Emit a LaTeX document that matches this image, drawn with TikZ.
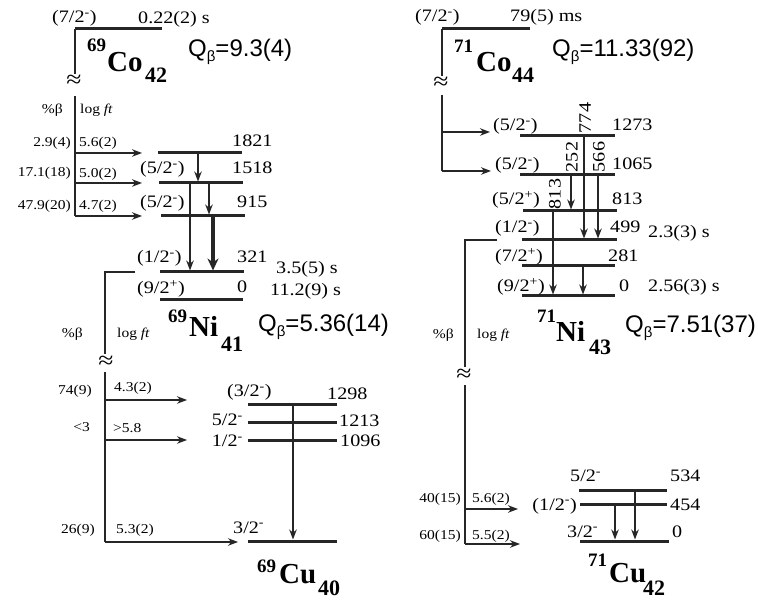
\documentclass[tikz,border=0pt]{standalone}
\usepackage{fontspec}
\usetikzlibrary{arrows.meta}
\newfontfamily\tms[FakeStretch=1.15]{Liberation Serif}
\newfontfamily\tmb{Liberation Serif}
\newfontfamily\ari{Liberation Sans}
\newcommand\lgf{\tms\fontsize{17.5}{17.5}\selectfont}
\newcommand\smf{\tms\fontsize{13.5}{13.5}\selectfont}
\newcommand\jp[1]{\textsuperscript{#1}}
\newcommand\qb[1]{Q\raisebox{-5pt}{\fontsize{15}{15}\selectfont β}=#1}
\tikzset{
  lbl/.style={inner sep=0pt, font=\lgf},
  sml/.style={inner sep=0pt, font=\smf},
  qv/.style={inner sep=0pt, font=\ari\fontsize{24}{24}\selectfont},
  nA/.style={inner sep=0pt, font=\tmb\bfseries\fontsize{19}{19}\selectfont},
  nB/.style={inner sep=0pt, font=\tmb\bfseries\fontsize{29}{29}\selectfont},
  nC/.style={inner sep=0pt, font=\tmb\bfseries\fontsize{22}{22}\selectfont},
  apx/.style={inner sep=0pt, font=\tms\fontsize{24}{24}\selectfont},
  lvl/.style={line width=3pt, draw=black!85},
  dec/.style={line width=1.5pt, draw=black!85},
  barr/.style={line width=1.4pt, draw=black!85, -{Stealth[length=10pt,width=7.5pt]}},
  gam/.style={line width=1.6pt, draw=black!85, -{Stealth[length=10pt,width=7.5pt]}},
  gamT/.style={line width=4.5pt, draw=black!85, -{Stealth[length=12pt,width=11pt]}},
}
\begin{document}
\begin{tikzpicture}[x=1pt,y=-1pt]
\useasboundingbox[fill=white] (0,0) rectangle (758,601);

% ================= LEFT: 69Co -> 69Ni =================
\coordinate (c69a) at (75,29);
\coordinate (c69b) at (162,29);
\draw[lvl] (c69a) -- (c69b);
\coordinate (c69v1) at (75,74);
\draw[dec] (c69a) -- (c69v1);
\node[apx] (ap1) at (74,81.5) {≈};
\coordinate (c69v2) at (75,96);
\coordinate (c69v3) at (75,216);
\draw[dec] (c69v2) -- (c69v3);

\node[lbl, anchor=base west] (t1) at (52,23) {(7/2\jp{-})};
\node[lbl, anchor=base west] (t2) at (138,24) {0.22(2) s};
\node[nA, anchor=base west] (co69a) at (87,52) {69};
\node[nB, anchor=base west] (co69b) at (107,72) {Co};
\node[nC, anchor=base west] (co69c) at (145,83) {42};
\node[qv, anchor=base west] (q1) at (188,57) {\qb{9.3(4)}};

\node[sml, anchor=base east] (pb1) at (63,114) {\%β};
\node[sml, anchor=base west] (lf1) at (80,114) {log \textit{ft}};

% levels 69Ni
\coordinate (n1821a) at (158,153); \coordinate (n1821b) at (242,153);
\coordinate (n1518a) at (159,183); \coordinate (n1518b) at (243,183);
\coordinate (n915a) at (161,216);  \coordinate (n915b) at (245,216);
\coordinate (n321a) at (160,272);  \coordinate (n321b) at (244,272);
\coordinate (n0a) at (160,300);    \coordinate (n0b) at (243,300);
\draw[lvl] (n1821a) -- (n1821b);
\draw[lvl] (n1518a) -- (n1518b);
\draw[lvl] (n915a) -- (n915b);
\draw[lvl] (n321a) -- (n321b);
\draw[lvl] (n0a) -- (n0b);

% beta feeding
\coordinate (b1s) at (75,153); \coordinate (b1e) at (142,153);
\coordinate (b2s) at (75,183); \coordinate (b2e) at (142,183);
\coordinate (b3e) at (142,216);
\draw[barr] (b1s) -- (b1e);
\draw[barr] (b2s) -- (b2e);
\draw[barr] (c69v3) -- (b3e);
\node[sml, anchor=base east] (p1) at (71,147) {2.9(4)};
\node[sml, anchor=base west] (f1) at (79,147) {5.6(2)};
\node[sml, anchor=base east] (p2) at (71,177) {17.1(18)};
\node[sml, anchor=base west] (f2) at (79,178) {5.0(2)};
\node[sml, anchor=base east] (p3) at (71,210) {47.9(20)};
\node[sml, anchor=base west] (f3) at (79,210) {4.7(2)};

% level labels
\node[lbl, anchor=base west] (e1821) at (232,147) {1821};
\node[lbl, anchor=base west] (s1518) at (140,174) {(5/2\jp{-})};
\node[lbl, anchor=base west] (e1518) at (232,174) {1518};
\node[lbl, anchor=base west] (s915) at (140,208) {(5/2\jp{-})};
\node[lbl, anchor=base west] (e915) at (237,208) {915};
\node[lbl, anchor=base west] (s321) at (137,263) {(1/2\jp{-})};
\node[lbl, anchor=base west] (e321) at (237,263) {321};
\node[lbl, anchor=base west] (h321) at (276,274) {3.5(5) s};
\node[lbl, anchor=base west] (s0) at (137,294) {(9/2\jp{+})};
\node[lbl, anchor=base west] (e0) at (237,293) {0};
\node[lbl, anchor=base west] (h0) at (270,296) {11.2(9) s};

% gammas
\coordinate (g1a) at (198,154); \coordinate (g1b) at (198,181.5);
\coordinate (g2a) at (209,184); \coordinate (g2b) at (209,214.5);
\coordinate (g3a) at (190,184); \coordinate (g3b) at (190,270.5);
\coordinate (g4a) at (213,217); \coordinate (g4b) at (213,270.5);
\draw[gam] (g1a) -- (g1b);
\draw[gam] (g2a) -- (g2b);
\draw[gam] (g3a) -- (g3b);
\draw[gamT] (g4a) -- (g4b);

% ================= LEFT: 69Ni -> 69Cu =================
\node[nA, anchor=base west] (ni69a) at (168,323) {69};
\node[nB, anchor=base west] (ni69b) at (189,337) {Ni};
\node[nC, anchor=base west] (ni69c) at (221,352) {41};
\node[qv, anchor=base west] (q2) at (258,332) {\qb{5.36(14)}};

\coordinate (d1a) at (135,272);
\coordinate (d1b) at (105,272);
\coordinate (d1c) at (105,354);
\draw[dec] (d1a) -- (d1b) -- (d1c);
\node[apx] (ap2) at (106,362) {≈};
\coordinate (d1d) at (105,372);
\coordinate (d1e) at (105,542);
\draw[dec] (d1d) -- (d1e);

\node[sml, anchor=base east] (pb2) at (83,338) {\%β};
\node[sml, anchor=base west] (lf2) at (117,338) {log \textit{ft}};

\coordinate (cb1s) at (105,400); \coordinate (cb1e) at (187,400);
\coordinate (cb2s) at (105,440); \coordinate (cb2e) at (187,440);
\coordinate (cb3e) at (238,542);
\draw[barr] (cb1s) -- (cb1e);
\draw[barr] (cb2s) -- (cb2e);
\draw[barr] (d1e) -- (cb3e);
\node[sml, anchor=base east] (cp1) at (92,395) {74(9)};
\node[sml, anchor=base west] (cf1) at (114,392) {4.3(2)};
\node[sml, anchor=base east] (cp2) at (90,432) {<3};
\node[sml, anchor=base west] (cf2) at (113,433) {>5.8};
\node[sml, anchor=base east] (cp3) at (95,533) {26(9)};
\node[sml, anchor=base west] (cf3) at (116,533) {5.3(2)};

\coordinate (u1298a) at (248,405); \coordinate (u1298b) at (337,405);
\coordinate (u1213a) at (248,423); \coordinate (u1213b) at (337,423);
\coordinate (u1096a) at (248,441); \coordinate (u1096b) at (337,441);
\coordinate (u0a) at (248,541);    \coordinate (u0b) at (337,541);
\draw[lvl] (u1298a) -- (u1298b);
\draw[lvl] (u1213a) -- (u1213b);
\draw[lvl] (u1096a) -- (u1096b);
\draw[lvl] (u0a) -- (u0b);
\node[lbl, anchor=base west] (us1298) at (227,397) {(3/2\jp{-})};
\node[lbl, anchor=base west] (ue1298) at (327,400) {1298};
\node[lbl, anchor=base east] (us1213) at (243,426) {5/2\jp{-}};
\node[lbl, anchor=base west] (ue1213) at (339,427) {1213};
\node[lbl, anchor=base east] (us1096) at (243,447) {1/2\jp{-}};
\node[lbl, anchor=base west] (ue1096) at (340,447) {1096};
\node[lbl, anchor=base west] (us0) at (233,533) {3/2\jp{-}};
\coordinate (ug1a) at (293,406); \coordinate (ug1b) at (293,539.5);
\draw[gam] (ug1a) -- (ug1b);
\node[nA, anchor=base west] (cu69a) at (257,572) {69};
\node[nB, anchor=base west] (cu69b) at (279,583) {Cu};
\node[nC, anchor=base west] (cu69c) at (318,595) {40};

% ================= RIGHT: 71Co -> 71Ni =================
\coordinate (c71a) at (442,29);
\coordinate (c71b) at (530,29);
\draw[lvl] (c71a) -- (c71b);
\coordinate (c71v1) at (442,76);
\draw[dec] (c71a) -- (c71v1);
\node[apx] (ap3) at (441,83) {≈};
\coordinate (c71v2) at (442,95);
\coordinate (c71v3) at (442,171);
\draw[dec] (c71v2) -- (c71v3);
\coordinate (rb1s) at (442,132); \coordinate (rb1e) at (490,132);
\coordinate (rb2e) at (491,171);
\draw[barr] (rb1s) -- (rb1e);
\draw[barr] (c71v3) -- (rb2e);

\node[lbl, anchor=base west] (rt1) at (415,22) {(7/2\jp{-})};
\node[lbl, anchor=base west] (rt2) at (510,22) {79(5) ms};
\node[nA, anchor=base west] (co71a) at (454,53) {71};
\node[nB, anchor=base west] (co71b) at (476,72) {Co};
\node[nC, anchor=base west] (co71c) at (512,83) {44};
\node[qv, anchor=base west] (q3) at (552,57) {\qb{11.33(92)}};

\coordinate (r1273a) at (520,136); \coordinate (r1273b) at (615,136);
\coordinate (r1065a) at (520,175); \coordinate (r1065b) at (615,175);
\coordinate (r813a) at (523,211);  \coordinate (r813b) at (617,211);
\coordinate (r499a) at (522,240);  \coordinate (r499b) at (617,240);
\coordinate (r281a) at (522,266);  \coordinate (r281b) at (615,266);
\coordinate (r0a) at (522,296);    \coordinate (r0b) at (615,296);
\draw[lvl] (r1273a) -- (r1273b);
\draw[lvl] (r1065a) -- (r1065b);
\draw[lvl] (r813a) -- (r813b);
\draw[lvl] (r499a) -- (r499b);
\draw[lvl] (r281a) -- (r281b);
\draw[lvl] (r0a) -- (r0b);

\node[lbl, anchor=base west] (rs1273) at (493,131) {(5/2\jp{-})};
\node[lbl, anchor=base west] (re1273) at (612,131) {1273};
\node[lbl, anchor=base west] (rs1065) at (495,170) {(5/2\jp{-})};
\node[lbl, anchor=base west] (re1065) at (612,170) {1065};
\node[lbl, anchor=base west] (rs813) at (492,205) {(5/2\jp{+})};
\node[lbl, anchor=base west] (re813) at (612,205) {813};
\node[lbl, anchor=base west] (rs499) at (495,233) {(1/2\jp{-})};
\node[lbl, anchor=base west] (re499) at (610,233) {499};
\node[lbl, anchor=base west] (rh499) at (648,238) {2.3(3) s};
\node[lbl, anchor=base west] (rs281) at (495,262) {(7/2\jp{+})};
\node[lbl, anchor=base west] (re281) at (608,262) {281};
\node[lbl, anchor=base west] (rs0) at (497,292) {(9/2\jp{+})};
\node[lbl, anchor=base west] (re0) at (619,292) {0};
\node[lbl, anchor=base west] (rh0) at (648,292) {2.56(3) s};

% gammas 71Ni
\coordinate (rg1a) at (584,137); \coordinate (rg1b) at (584,238.5);
\coordinate (rg2a) at (571,176); \coordinate (rg2b) at (571,209.5);
\coordinate (rg3a) at (598,176); \coordinate (rg3b) at (598,238.5);
\coordinate (rg4a) at (553,212); \coordinate (rg4b) at (553,294.5);
\coordinate (rg5a) at (583,267); \coordinate (rg5b) at (583,294.5);
\draw[gam] (rg1a) -- (rg1b);
\draw[gam] (rg2a) -- (rg2b);
\draw[gam] (rg3a) -- (rg3b);
\draw[gam] (rg4a) -- (rg4b);
\draw[gam] (rg5a) -- (rg5b);
\node[lbl, rotate=90] (rl774) at (585,118) {774};
\node[lbl, rotate=90] (rl252) at (572,157) {252};
\node[lbl, rotate=90] (rl566) at (599,157) {566};
\node[lbl, rotate=90] (rl813) at (555,194) {813};

% ================= RIGHT: 71Ni -> 71Cu =================
\node[nA, anchor=base west] (ni71a) at (537,323) {71};
\node[nB, anchor=base west] (ni71b) at (556,342) {Ni};
\node[nC, anchor=base west] (ni71c) at (589,355) {43};
\node[qv, anchor=base west] (q4) at (625,333) {\qb{7.51(37)}};

\coordinate (d2a) at (497,240);
\coordinate (d2b) at (465,240);
\coordinate (d2c) at (465,367);
\draw[dec] (d2a) -- (d2b) -- (d2c);
\node[apx] (ap4) at (464,375) {≈};
\coordinate (d2d) at (465,385);
\coordinate (d2e) at (465,544);
\draw[dec] (d2d) -- (d2e);
\node[sml, anchor=base east] (pb4) at (454,339) {\%β};
\node[sml, anchor=base west] (lf4) at (477,339) {log \textit{ft}};

\coordinate (rc1s) at (465,509); \coordinate (rc1e) at (518,509);
\coordinate (rc2e) at (520,544);
\draw[barr] (rc1s) -- (rc1e);
\draw[barr] (d2e) -- (rc2e);
\node[sml, anchor=base east] (rp1) at (461,503) {40(15)};
\node[sml, anchor=base west] (rf1) at (472,503) {5.6(2)};
\node[sml, anchor=base east] (rp2) at (461,539) {60(15)};
\node[sml, anchor=base west] (rf2) at (472,539) {5.5(2)};

\coordinate (v534a) at (579,490); \coordinate (v534b) at (667,490);
\coordinate (v454a) at (580,504); \coordinate (v454b) at (667,504);
\coordinate (v0a) at (580,541);   \coordinate (v0b) at (669,541);
\draw[lvl] (v534a) -- (v534b);
\draw[lvl] (v454a) -- (v454b);
\draw[lvl] (v0a) -- (v0b);
\node[lbl, anchor=base west] (vs534) at (570,482) {5/2\jp{-}};
\node[lbl, anchor=base west] (ve534) at (670,482) {534};
\node[lbl, anchor=base east] (vs454) at (577,510) {(1/2\jp{-})};
\node[lbl, anchor=base west] (ve454) at (670,510) {454};
\node[lbl, anchor=base west] (vs0) at (567,537) {3/2\jp{-}};
\node[lbl, anchor=base west] (ve0) at (672,537) {0};
\coordinate (vg1a) at (615,505); \coordinate (vg1b) at (615,539.5);
\coordinate (vg2a) at (635,491); \coordinate (vg2b) at (635,539.5);
\draw[gam] (vg1a) -- (vg1b);
\draw[gam] (vg2a) -- (vg2b);
\node[nA, anchor=base west] (cu71a) at (588,566) {71};
\node[nB, anchor=base west] (cu71b) at (609,582) {Cu};
\node[nC, anchor=base west] (cu71c) at (643,595) {42};
\end{tikzpicture}
\end{document}
